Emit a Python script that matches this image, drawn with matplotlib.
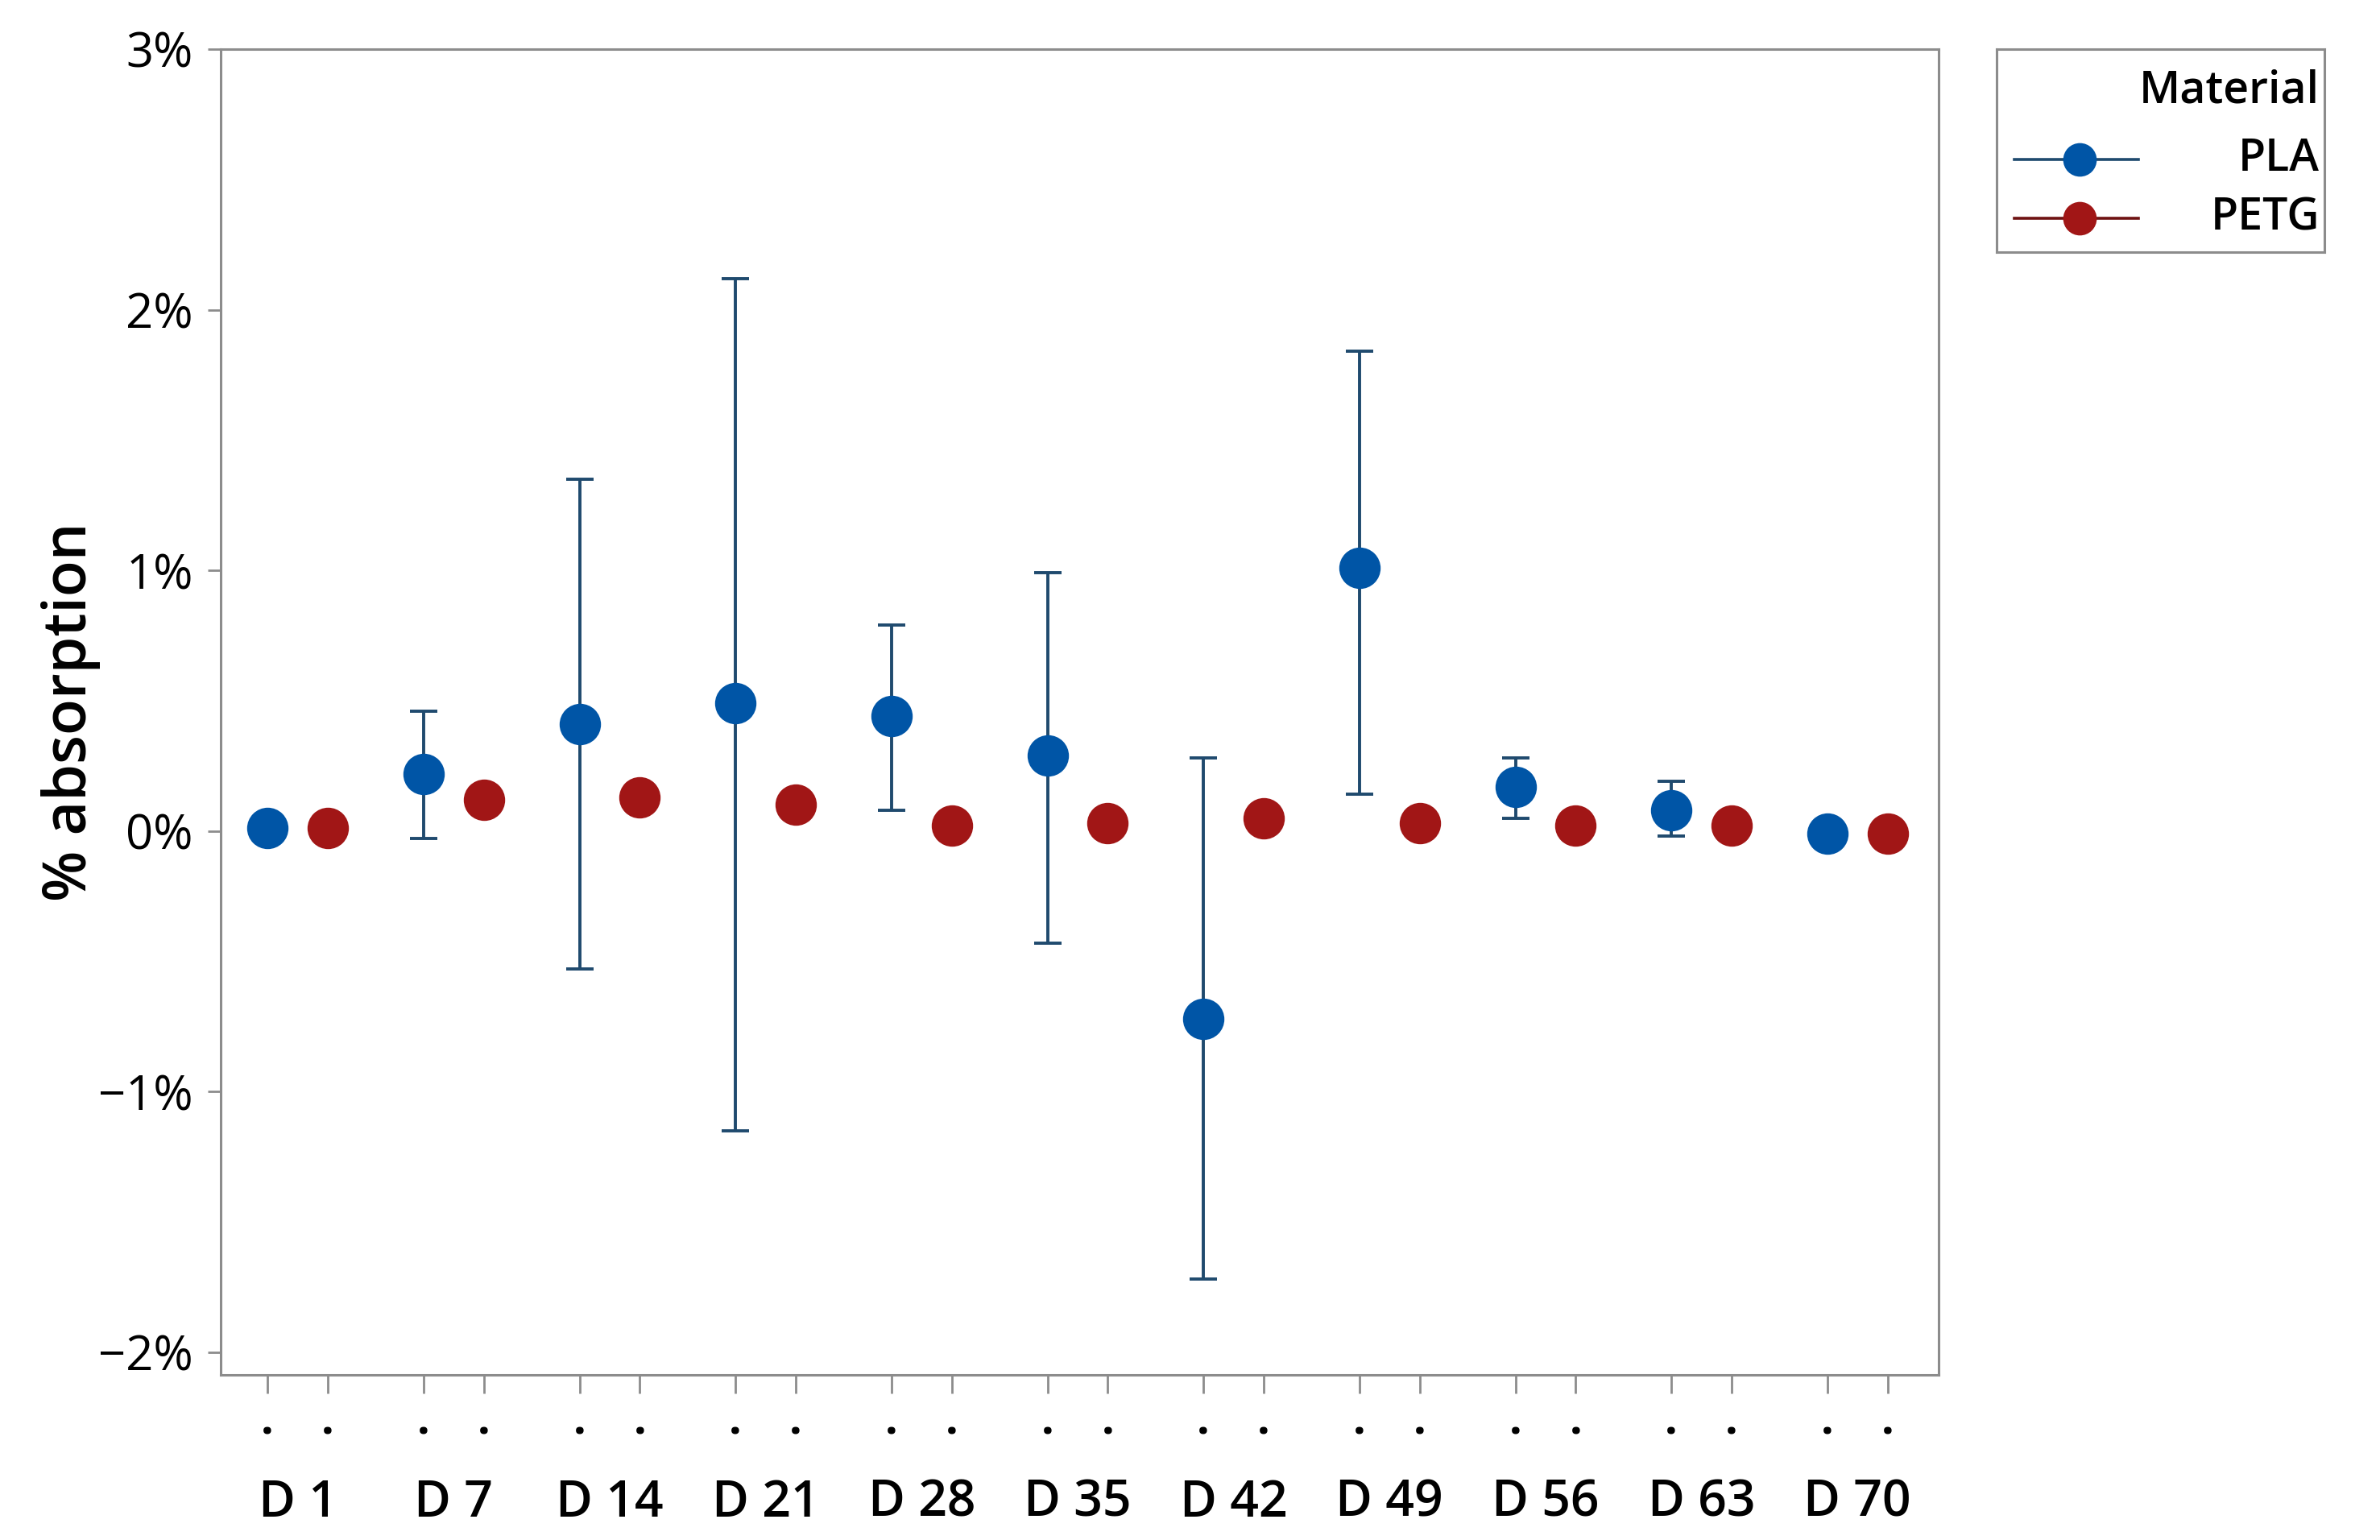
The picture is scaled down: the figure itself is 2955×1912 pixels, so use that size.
import numpy as np
import matplotlib
matplotlib.use("Agg")
import matplotlib.pyplot as plt

plt.rcParams['font.family'] = ['Open Sans', 'DejaVu Sans']

# interval plot data, % absorption per day
days = ["D 1", "D 7", "D 14", "D 21", "D 28", "D 35", "D 42", "D 49", "D 56", "D 63", "D 70"]
pla_mean = [0.01, 0.22, 0.41, 0.49, 0.44, 0.29, -0.72, 1.01, 0.17, 0.08, -0.01]
pla_low = [0.01, -0.03, -0.53, -1.15, 0.08, -0.43, -1.72, 0.14, 0.05, -0.02, -0.01]
pla_high = [0.01, 0.46, 1.35, 2.12, 0.79, 0.99, 0.28, 1.84, 0.28, 0.19, -0.01]
petg_mean = [0.01, 0.12, 0.13, 0.10, 0.02, 0.03, 0.05, 0.03, 0.02, 0.02, -0.01]
yticks = [-2, -1, 0, 1, 2, 3]
ytick_labels = ["\u22122%", "\u22121%", "0%", "1%", "2%", "3%"]

blue = "#0055a6"
red = "#a11616"
bar_col = "#1f4a6e"
grey = "#8c8c8c"

pla_mean = np.array(pla_mean)
err = [pla_mean - np.array(pla_low), np.array(pla_high) - pla_mean]

centers = np.arange(len(days)) * 2.59
pla_x = centers - 0.5
petg_x = centers + 0.5

fig = plt.figure(figsize=(14.775, 9.56), dpi=200)
ax = fig.add_axes([0.0927, 0.1072, 0.7219, 0.8609])

ax.errorbar(pla_x, pla_mean, yerr=err, fmt='none', ecolor=bar_col,
            elinewidth=1.4, capsize=6.2, capthick=1.4, zorder=2)
ax.plot(pla_x, pla_mean, 'o', color=blue, markersize=17.5, zorder=3)
ax.plot(petg_x, petg_mean, 'o', color=red, markersize=17.5, zorder=3)

ax.set_xlim(-1.28, 27.25)
ax.set_ylim(-2.087, 3.0)

ax.set_yticks(yticks)
ax.set_yticklabels(ytick_labels, fontsize=21.5)

all_x = np.sort(np.concatenate([pla_x, petg_x]))
ax.set_xticks(all_x)
ax.set_xticklabels(["."] * len(all_x), fontsize=20, fontweight='bold')
ax.set_xticks(centers, minor=True)
ax.set_xticklabels(days, minor=True, fontsize=22.5, fontweight='semibold')

for s in ax.spines.values():
    s.set_color(grey)
    s.set_linewidth(1.1)
ax.tick_params(axis='y', direction='out', length=5.8, width=1, color=grey, pad=6.5)
ax.tick_params(axis='x', which='major', direction='out', length=8.3, width=1, color=grey, pad=3)
ax.tick_params(axis='x', which='minor', length=0, pad=46)

ax.set_ylabel("% absorption", fontsize=26.5, fontweight='semibold', labelpad=-1)

# legend box drawn by hand so the labels can sit right-aligned
lg = fig.add_axes([2479 / 2955, 1 - 313 / 1912, 407 / 2955, 252 / 1912])
lg.set_xlim(0, 407)
lg.set_ylim(252, 0)
lg.set_xticks([])
lg.set_yticks([])
for s in lg.spines.values():
    s.set_color(grey)
    s.set_linewidth(1.1)
lg.text(401, 52, "Material", ha='right', va='center', fontsize=20, fontweight='semibold')
lg.plot([22, 176], [137, 137], color=bar_col, lw=1.3)
lg.plot([103], [137], 'o', color=blue, markersize=14)
lg.text(401, 137, "PLA", ha='right', va='center', fontsize=20, fontweight='semibold')
lg.plot([22, 176], [210, 210], color="#6e1212", lw=1.3)
lg.plot([103], [210], 'o', color=red, markersize=14)
lg.text(401, 210, "PETG", ha='right', va='center', fontsize=20, fontweight='semibold')

fig.savefig("out.png", dpi=200)
